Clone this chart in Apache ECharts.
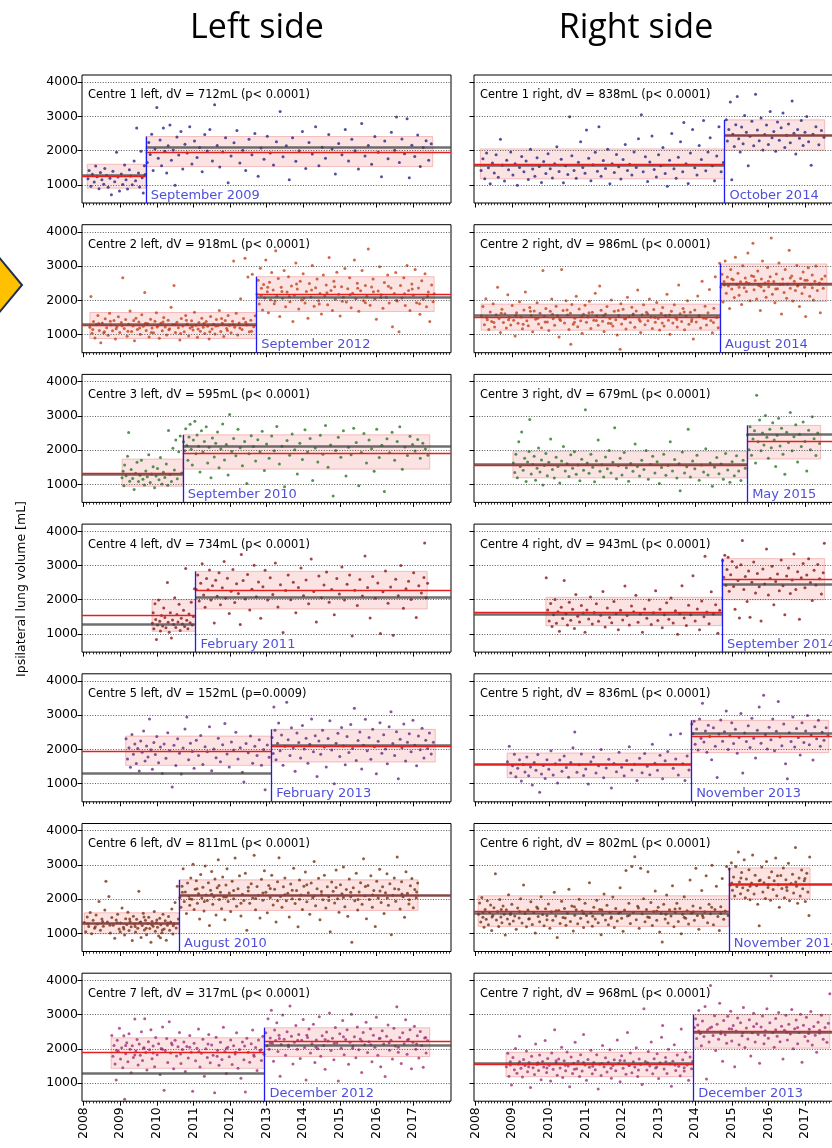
<!DOCTYPE html>
<html>
<head>
<meta charset="utf-8">
<script src="https://cdn.jsdelivr.net/npm/echarts@6/dist/echarts.min.js"></script>
<style>
html,body{margin:0;padding:0;background:#fff;}
#chart{width:832px;height:1148px;}
</style>
</head>
<body>
<div id="chart"></div>
<script>
// Ipsilateral lung volume per scan, before / after protocol change, 7 centres x 2 sides.

const yearTicks = [2008, 2009, 2010, 2011, 2012, 2013, 2014, 2015, 2016, 2017];
const volumeTicks = [1000, 2000, 3000, 4000];
const sideTitles = ['Left side', 'Right side'];

// panel order: C1 left, C1 right, C2 left, C2 right, ... C7 right
const centreNumbers = [1, 1, 2, 2, 3, 3, 4, 4, 5, 5, 6, 6, 7, 7];
const sideNames = ['left', 'right', 'left', 'right', 'left', 'right', 'left', 'right', 'left', 'right', 'left', 'right', 'left', 'right'];
const deltaV = [712, 838, 918, 986, 595, 679, 734, 943, 152, 836, 811, 802, 317, 968];
const pTexts = ['p< 0.0001', 'p< 0.0001', 'p< 0.0001', 'p< 0.0001', 'p< 0.0001', 'p< 0.0001', 'p< 0.0001', 'p< 0.0001', 'p=0.0009', 'p< 0.0001', 'p< 0.0001', 'p< 0.0001', 'p< 0.0001', 'p< 0.0001'];
const changeLabels = ['September 2009', 'October 2014', 'September 2012', 'August 2014', 'September 2010', 'May 2015', 'February 2011', 'September 2014', 'February 2013', 'November 2013', 'August 2010', 'November 2014', 'December 2012', 'December 2013'];
const changeYears = [2009.70, 2014.80, 2012.72, 2014.68, 2010.71, 2015.42, 2011.06, 2014.73, 2013.13, 2013.89, 2010.61, 2014.92, 2012.94, 2013.95];
const periodStart = [2008.10, 2008.13, 2008.17, 2008.15, 2009.05, 2009.02, 2009.87, 2009.92, 2009.15, 2008.86, 2008.02, 2008.07, 2008.75, 2008.83];
const periodEnd = [2017.54, 2017.54, 2017.58, 2017.60, 2017.46, 2017.43, 2017.39, 2017.54, 2017.61, 2017.65, 2017.14, 2017.14, 2017.46, 2017.68];
const meanBefore = [1255, 1604, 1265, 1510, 1324, 1570, 1555, 1643, 1955, 1555, 1290, 1641, 1902, 1557];
const refBefore = [1275, 1585, 1290, 1577, 1290, 1575, 1292, 1584, 1292, 1575, 1290, 1592, 1283, 1587];
const refAfter = [2088, 2460, 2085, 2480, 2098, 2475, 2085, 2460, 2117, 2460, 2100, 2447, 2098, 2489];
const bandBeforeLow = [903, 1175, 883, 1127, 941, 1187, 1078, 1243, 1535, 1175, 990, 1204, 1430, 1186];
const bandBeforeHigh = [1604, 2051, 1645, 1890, 1737, 1960, 2003, 2071, 2390, 1896, 1602, 2097, 2323, 1900];
const bandAfterLow = [1535, 2012, 1674, 1968, 1442, 1737, 1730, 2000, 1633, 1906, 1670, 2010, 1775, 2020];
const bandAfterHigh = [2412, 2899, 2691, 3063, 2445, 2720, 2828, 3200, 2587, 2850, 2563, 2913, 2616, 3000];
const centreColors = ['#202784', '#c0431a', '#297828', '#881818', '#672982', '#773210', '#a0307c'];

// scans: [decimal year, volume mL]
const ptsC1Left = [[2008.12,1180],[2008.15,1420],[2008.2,960],[2008.24,1310],[2008.29,1080],[2008.33,1550],[2008.37,1240],[2008.42,890],[2008.46,1360],[2008.5,1150],[2008.55,1020],[2008.58,1480],[2008.63,1270],[2008.67,930],[2008.72,1190],[2008.76,710],[2008.8,1400],[2008.85,1090],[2008.9,1950],[2008.94,1230],[2008.98,820],[2009.03,1320],[2009.07,1010],[2009.12,1580],[2009.16,1150],[2009.2,880],[2009.25,1440],[2009.29,1260],[2009.33,1000],[2009.38,1700],[2009.42,1120],[2009.45,2660],[2009.5,1350],[2009.53,940],[2009.57,1980],[2009.6,1210],[2009.63,760],[2009.66,1560],[2009.68,1300],
[2009.74,1650],[2009.78,2240],[2009.82,1890],[2009.86,2480],[2009.9,1420],[2009.95,2050],[2010.0,3260],[2010.04,1780],[2010.09,2310],[2010.13,1560],[2010.18,2660],[2010.22,1980],[2010.27,1350],[2010.31,2140],[2010.36,2750],[2010.4,1720],[2010.45,2020],[2010.5,990],[2010.55,2400],[2010.6,1870],[2010.66,2560],[2010.71,1460],[2010.77,2190],[2010.83,1930],[2010.9,2700],[2010.96,1610],[2011.03,2280],[2011.1,1800],[2011.17,2090],[2011.24,1380],[2011.31,2470],[2011.38,1990],[2011.45,2620],[2011.52,1700],[2011.58,3340],[2011.65,2150],[2011.72,1520],[2011.8,1960],[2011.88,2380],[2011.95,1060],[2012.03,1840],[2012.11,2230],[2012.19,2590],[2012.27,1640],[2012.35,2010],[2012.43,1420],[2012.52,2330],[2012.6,1880],[2012.68,2500],[2012.77,1250],[2012.85,2080],[2012.93,1750],[2013.02,2420],[2013.1,1930],[2013.19,1580],[2013.27,2260],[2013.37,3140],[2013.45,1820],[2013.54,2140],[2013.62,1150],[2013.71,2380],[2013.8,1690],[2013.89,2000],[2013.98,2560],[2014.07,1480],[2014.16,2240],[2014.25,1900],[2014.34,2700],[2014.43,1560],[2014.52,2100],[2014.61,1780],[2014.7,2470],[2014.79,2050],[2014.88,1320],[2014.97,2210],[2015.06,1880],[2015.15,2620],[2015.24,1700],[2015.33,2330],[2015.42,2000],[2015.51,1460],[2015.6,2790],[2015.69,1840],[2015.78,2150],[2015.87,1600],[2015.96,2410],[2016.05,1950],[2016.14,1240],[2016.23,2280],[2016.32,1760],[2016.41,2540],[2016.5,2010],[2016.55,2980],[2016.63,1650],[2016.7,2340],[2016.77,1910],[2016.84,2930],[2016.9,1210],[2016.97,2160],[2017.05,1830],[2017.13,2460],[2017.2,1540],[2017.28,2090],[2017.36,2290],[2017.43,1720],[2017.5,2200]];

const ptsC1Right = [[2008.15,1420],[2008.2,1760],[2008.25,1180],[2008.3,1930],[2008.35,1500],[2008.4,1030],[2008.46,1640],[2008.51,1350],[2008.56,1880],[2008.62,1220],[2008.68,2330],[2008.73,1580],[2008.79,1110],[2008.85,1720],[2008.9,1440],[2008.96,1960],[2009.02,1290],[2009.08,1620],[2009.14,990],[2009.2,1510],[2009.26,1830],[2009.32,1380],[2009.38,1700],[2009.44,1160],[2009.5,2040],[2009.56,1460],[2009.62,1250],[2009.68,1790],[2009.74,1540],[2009.8,1070],[2009.86,1680],[2009.92,1330],[2009.98,1910],[2010.04,1470],[2010.1,1200],[2010.16,1620],[2010.22,2110],[2010.28,1390],[2010.34,1750],[2010.4,1060],[2010.46,1560],[2010.52,1300],[2010.57,2990],[2010.63,1850],[2010.69,1420],[2010.75,1190],[2010.81,1660],[2010.87,2260],[2010.93,1510],[2010.99,1340],[2011.03,2600],[2011.09,1780],[2011.15,1120],[2011.21,1590],[2011.27,1950],[2011.33,1400],[2011.37,2700],[2011.43,1250],[2011.49,1710],[2011.55,1480],[2011.61,2040],[2011.67,1030],[2011.73,1620],[2011.79,1360],[2011.85,1890],[2011.91,1530],[2011.97,1170],[2012.03,1740],[2012.09,2180],[2012.15,1420],[2012.21,1600],[2012.27,1290],[2012.33,1960],[2012.39,1510],[2012.45,2350],[2012.53,3050],[2012.58,1380],[2012.64,1820],[2012.7,1100],[2012.76,1670],[2012.82,2430],[2012.88,1450],[2012.94,1230],[2013.0,1880],[2013.06,1560],[2013.12,2090],[2013.18,1330],[2013.24,960],[2013.3,1720],[2013.36,2500],[2013.42,1470],[2013.48,1190],[2013.54,1810],[2013.6,2260],[2013.66,1380],[2013.69,2820],[2013.75,1620],[2013.81,1040],[2013.87,1930],[2013.93,2620],[2013.99,1500],[2014.05,1290],[2014.11,2150],[2014.17,1740],[2014.23,2880],[2014.29,1410],[2014.35,1960],[2014.41,2380],[2014.47,1560],[2014.53,1120],[2014.59,1840],[2014.65,2700],[2014.71,1380],[2014.77,1650],
[2014.85,2900],[2014.88,2280],[2014.92,2620],[2014.96,3420],[2015.0,1150],[2015.03,2480],[2015.07,2120],[2015.11,2760],[2015.15,3580],[2015.19,2350],[2015.23,1960],[2015.27,2690],[2015.31,2200],[2015.35,3030],[2015.4,2540],[2015.45,1560],[2015.5,2420],[2015.55,2860],[2015.6,2140],[2015.65,3650],[2015.7,2600],[2015.75,2290],[2015.8,2950],[2015.85,2020],[2015.9,2470],[2015.95,2750],[2016.0,2180],[2016.05,3140],[2016.1,2380],[2016.15,2560],[2016.2,1980],[2016.25,2840],[2016.3,2300],[2016.35,2670],[2016.4,3100],[2016.45,2090],[2016.5,2450],[2016.55,2780],[2016.6,2230],[2016.65,3450],[2016.7,2510],[2016.75,1900],[2016.8,2620],[2016.85,2360],[2016.9,2880],[2016.95,2150],[2017.0,2540],[2017.05,3000],[2017.1,2260],[2017.17,1570],[2017.22,2480],[2017.3,2700],[2017.38,2170],[2017.45,2590],[2017.52,2390]];

const ptsC2Left = [[2008.17,1210],[2008.2,2110],[2008.23,1040],[2008.27,1380],[2008.31,900],[2008.35,1290],[2008.39,1560],[2008.43,1120],[2008.47,760],[2008.51,1340],[2008.55,1050],[2008.59,1460],[2008.63,1200],[2008.67,980],[2008.71,1620],[2008.75,1280],[2008.79,1110],[2008.83,1410],[2008.87,870],[2008.91,1230],[2008.95,1520],[2008.99,1060],[2009.03,1350],[2009.07,2660],[2009.11,1180],[2009.15,1440],[2009.19,950],[2009.23,1300],[2009.27,1690],[2009.31,1090],[2009.35,1250],[2009.39,820],[2009.43,1480],[2009.47,1150],[2009.51,1370],[2009.55,1010],[2009.59,1580],[2009.63,1240],[2009.67,2230],[2009.71,1120],[2009.75,1320],[2009.79,930],[2009.83,1450],[2009.87,1190],[2009.91,1050],[2009.95,1390],[2009.99,1640],[2010.03,1260],[2010.07,890],[2010.11,1330],[2010.15,1110],[2010.19,1500],[2010.23,1220],[2010.27,990],[2010.31,1420],[2010.35,1170],[2010.39,1800],[2010.43,1290],[2010.47,2430],[2010.51,1060],[2010.55,1360],[2010.59,1200],[2010.63,840],[2010.67,1470],[2010.71,1250],[2010.75,1080],[2010.79,1560],[2010.83,1310],[2010.87,960],[2010.91,1190],[2010.95,1400],[2010.99,1130],[2011.03,1650],[2011.07,1270],[2011.11,920],[2011.15,1350],[2011.19,1100],[2011.23,1480],[2011.27,1210],[2011.31,1030],[2011.35,1380],[2011.39,1240],[2011.43,870],[2011.47,1530],[2011.51,1160],[2011.55,1300],[2011.59,1020],[2011.63,1440],[2011.67,1260],[2011.71,1700],[2011.75,1090],[2011.79,1330],[2011.83,940],[2011.87,1410],[2011.91,1180],[2011.95,1560],[2011.99,1270],[2012.03,1050],[2012.07,1390],[2012.1,3150],[2012.13,1210],[2012.17,1620],[2012.21,990],[2012.25,1340],[2012.29,2050],[2012.33,1150],[2012.37,1470],[2012.41,3230],[2012.45,1280],[2012.49,2680],[2012.53,1080],[2012.57,1420],[2012.61,2760],[2012.65,1230],[2012.69,1550],
[2008.25,1150],[2008.41,1320],[2008.57,1080],[2008.73,1390],[2008.89,1170],[2009.05,1260],[2009.21,1100],[2009.37,1410],[2009.53,1190],[2009.69,1330],[2009.85,1060],[2010.01,1220],[2010.17,1370],[2010.33,1140],[2010.49,1290],[2010.65,1030],[2010.81,1420],[2010.97,1230],[2011.13,1160],[2011.29,1320],[2011.45,1080],[2011.61,1250],[2011.77,1470],[2011.93,1120],[2012.09,1290],[2012.27,1190],[2012.43,1360],[2012.59,1100],
[2012.74,2180],[2012.77,2590],[2012.8,1890],[2012.83,2940],[2012.86,2350],[2012.89,1720],[2012.92,2460],[2012.95,2070],[2012.98,3180],[2013.02,2250],[2013.05,1640],[2013.08,2530],[2013.11,2020],[2013.14,2810],[2013.18,2300],[2013.21,1900],[2013.25,3450],[2013.28,2120],[2013.32,2640],[2013.36,1530],[2013.4,2380],[2013.44,2060],[2013.48,2870],[2013.52,1810],[2013.56,2240],[2013.6,2690],[2013.64,1960],[2013.68,2420],[2013.72,1380],[2013.76,2150],[2013.8,3090],[2013.84,2330],[2013.88,1750],[2013.92,2560],[2013.96,2010],[2014.0,2780],[2014.05,1920],[2014.09,2260],[2014.13,1480],[2014.17,2490],[2014.21,2100],[2014.25,3020],[2014.3,1830],[2014.34,2370],[2014.38,2620],[2014.42,1990],[2014.46,2200],[2014.5,1600],[2014.55,2740],[2014.59,2130],[2014.63,2450],[2014.67,1870],[2014.71,3250],[2014.76,2290],[2014.8,1700],[2014.84,2560],[2014.88,2030],[2014.92,2820],[2014.97,2180],[2015.01,1540],[2015.05,2400],[2015.1,2090],[2015.14,2930],[2015.18,1950],[2015.22,2340],[2015.27,2660],[2015.31,1780],[2015.35,2210],[2015.4,3180],[2015.44,2050],[2015.48,2500],[2015.52,1680],[2015.57,2280],[2015.61,2870],[2015.65,1990],[2015.7,2430],[2015.74,2120],[2015.78,3500],[2015.83,1860],[2015.87,2390],[2015.91,2620],[2015.96,2040],[2016.0,1450],[2016.05,2270],[2016.09,2980],[2016.13,2160],[2016.18,1770],[2016.22,2520],[2016.27,2090],[2016.31,2740],[2016.35,1920],[2016.4,2360],[2016.44,1230],[2016.49,2200],[2016.53,2810],[2016.57,1980],[2016.62,1080],[2016.66,2430],[2016.7,2070],[2016.75,2660],[2016.79,1850],[2016.84,3020],[2016.88,2290],[2016.92,1700],[2016.97,2480],[2017.01,2150],[2017.06,2900],[2017.1,1930],[2017.15,2360],[2017.19,1590],[2017.24,2570],[2017.28,2030],[2017.33,2780],[2017.37,1810],[2017.42,2240],[2017.46,1380],[2017.51,2450],[2017.55,1960],[2017.58,2190],
[2012.85,2150],[2013.03,2380],[2013.23,1980],[2013.42,2260],[2013.62,2110],[2013.82,2480],[2014.02,2060],[2014.23,2300],[2014.44,1890],[2014.65,2220],[2014.86,2400],[2015.07,1970],[2015.28,2160],[2015.49,2350],[2015.7,1930],[2015.92,2250],[2016.12,2080],[2016.33,2410],[2016.55,2000],[2016.77,2190],[2016.98,2330],[2017.18,1900],[2017.4,2120]];

const ptsC2Right = [[2008.16,1540],[2008.2,1820],[2008.24,1290],[2008.28,2050],[2008.32,1430],[2008.36,1150],[2008.4,1660],[2008.44,1380],[2008.48,1900],[2008.52,1220],[2008.56,1580],[2008.6,2380],[2008.64,1470],[2008.68,1060],[2008.72,1740],[2008.76,1350],[2008.8,1610],[2008.84,1190],[2008.88,2160],[2008.92,1500],[2008.96,1280],[2009.0,1850],[2009.04,1420],[2009.08,960],[2009.12,1640],[2009.16,1330],[2009.2,1960],[2009.24,1510],[2009.28,1170],[2009.32,1720],[2009.36,2240],[2009.4,1400],[2009.44,1260],[2009.48,1790],[2009.52,1560],[2009.56,1080],[2009.6,1690],[2009.64,1450],[2009.68,1930],[2009.72,1310],[2009.76,1620],[2009.8,1200],[2009.84,2870],[2009.88,1530],[2009.92,1760],[2009.96,1370],[2010.0,1120],[2010.04,1680],[2010.08,2040],[2010.12,1460],[2010.16,1270],[2010.2,1830],[2010.24,1550],[2010.28,930],[2010.32,1410],[2010.35,2900],[2010.39,1700],[2010.43,1340],[2010.47,1990],[2010.51,1570],[2010.55,1150],[2010.59,1620],[2010.6,720],[2010.63,1880],[2010.67,1300],[2010.71,1480],[2010.75,2120],[2010.79,1230],[2010.83,1750],[2010.87,1400],[2010.91,1040],[2010.95,1590],[2010.99,1860],[2011.03,1360],[2011.07,1510],[2011.11,1970],[2011.15,1180],[2011.19,1650],[2011.23,1420],[2011.27,2210],[2011.31,1540],[2011.35,1270],[2011.39,2420],[2011.43,1710],[2011.47,1390],[2011.51,1090],[2011.55,1600],[2011.59,1820],[2011.63,1330],[2011.67,1470],[2011.71,2010],[2011.75,1250],[2011.79,1680],[2011.83,1430],[2011.87,990],[2011.91,1560],[2011.95,570],[2011.97,1900],[2011.99,1310],[2012.03,1740],[2012.07,1460],[2012.11,1160],[2012.15,2090],[2012.19,1520],[2012.23,1350],[2012.27,1800],[2012.31,1600],[2012.35,1210],[2012.39,1690],[2012.43,2300],[2012.47,1440],[2012.51,1060],[2012.55,1580],[2012.59,1870],[2012.63,1290],[2012.67,1650],[2012.71,1400],[2012.75,2040],[2012.79,1510],[2012.83,1180],[2012.87,1730],[2012.91,1360],[2012.95,1940],[2012.99,1470],[2013.03,1130],[2013.07,1620],[2013.11,1790],[2013.15,1250],[2013.19,1550],[2013.23,2180],[2013.27,1420],[2013.31,1010],[2013.35,1680],[2013.39,1340],[2013.43,1870],[2013.47,1490],[2013.51,1220],[2013.55,2450],[2013.59,1610],[2013.63,1380],[2013.67,1760],[2013.71,1140],[2013.75,1530],[2013.79,1990],[2013.83,1300],[2013.87,1650],[2013.91,1440],[2013.95,870],[2013.99,1720],[2014.03,1370],[2014.07,2130],[2014.11,1560],[2014.15,1190],[2014.19,2560],[2014.23,1480],[2014.27,1830],[2014.31,1280],[2014.35,1640],[2014.39,2320],[2014.43,1410],[2014.47,1050],[2014.51,1770],[2014.55,2690],[2014.59,1500],[2014.63,1200],
[2008.3,1500],[2008.5,1350],[2008.7,1620],[2008.9,1430],[2009.1,1560],[2009.3,1300],[2009.5,1680],[2009.7,1480],[2009.9,1370],[2010.1,1590],[2010.3,1450],[2010.5,1720],[2010.7,1360],[2010.9,1520],[2011.1,1640],[2011.3,1410],[2011.5,1550],[2011.7,1320],[2011.9,1700],[2012.1,1460],[2012.3,1580],[2012.5,1390],[2012.7,1610],[2012.9,1500],[2013.1,1340],[2013.3,1570],[2013.5,1440],[2013.7,1660],[2013.9,1380],[2014.1,1530],[2014.3,1470],[2014.5,1350],
[2014.67,3080],[2014.7,2390],[2014.73,2760],[2014.76,1950],[2014.79,2550],[2014.82,3150],[2014.85,2210],[2014.88,2680],[2014.91,2420],[2014.94,1760],[2014.97,2900],[2015.0,2330],[2015.04,2600],[2015.07,2080],[2015.1,3260],[2015.14,2470],[2015.17,2790],[2015.2,2150],[2015.24,2540],[2015.27,1880],[2015.3,3010],[2015.34,2370],[2015.37,2650],[2015.4,2260],[2015.44,3380],[2015.47,2490],[2015.5,1990],[2015.54,2720],[2015.58,3670],[2015.61,2310],[2015.64,2580],[2015.68,2040],[2015.71,2860],[2015.74,2430],[2015.78,1700],[2015.81,2620],[2015.84,3150],[2015.88,2280],[2015.91,2510],[2015.94,2090],[2015.98,2960],[2016.01,2400],[2016.05,2690],[2016.08,3820],[2016.11,2180],[2016.15,2550],[2016.18,1930],[2016.22,2770],[2016.25,2340],[2016.29,3090],[2016.32,2470],[2016.36,1600],[2016.39,2620],[2016.43,2230],[2016.46,2900],[2016.5,2060],[2016.53,2480],[2016.57,3460],[2016.6,2350],[2016.64,2710],[2016.67,1980],[2016.71,2560],[2016.74,2290],[2016.78,3020],[2016.81,2440],[2016.85,1820],[2016.88,2640],[2016.92,2200],[2016.95,2830],[2016.99,2380],[2017.02,1530],[2017.06,2590],[2017.09,2950],[2017.13,2120],[2017.16,2470],[2017.2,2740],[2017.23,2010],[2017.27,2560],[2017.3,3000],[2017.34,2290],[2017.38,2480],[2017.42,1640],[2017.46,2620],[2017.5,2350],[2017.55,2710],
[2014.8,2450],[2015.0,2620],[2015.2,2380],[2015.4,2530],[2015.6,2700],[2015.8,2400],[2016.0,2560],[2016.2,2330],[2016.4,2480],[2016.6,2650],[2016.8,2420],[2017.0,2590],[2017.2,2370],[2017.4,2510]];

const ptsC3Left = [[2009.05,1190],[2009.08,1380],[2009.1,960],[2009.12,1560],[2009.16,1250],[2009.2,1820],[2009.23,2510],[2009.26,1090],[2009.3,1430],[2009.34,1170],[2009.38,850],[2009.42,1320],[2009.46,1640],[2009.5,1080],[2009.54,1260],[2009.58,1700],[2009.62,1150],[2009.66,980],[2009.7,1390],[2009.74,1220],[2009.78,1860],[2009.82,1050],[2009.86,1300],[2009.9,1510],[2009.94,900],[2009.98,1240],[2010.02,1460],[2010.06,1130],[2010.1,1780],[2010.14,1010],[2010.18,1350],[2010.22,1200],[2010.26,1590],[2010.3,970],[2010.32,2570],[2010.36,1290],[2010.4,1080],[2010.44,2050],[2010.48,1420],[2010.52,2290],[2010.56,1160],[2010.6,1950],[2010.64,2410],[2010.68,1330],
[2010.73,2240],[2010.76,1980],[2010.79,2620],[2010.82,2130],[2010.85,1700],[2010.88,2380],[2010.91,2750],[2010.94,2020],[2010.97,1560],[2011.0,2290],[2011.04,2840],[2011.07,1890],[2011.1,2440],[2011.14,2110],[2011.18,1360],[2011.22,2560],[2011.26,1940],[2011.3,2250],[2011.35,2680],[2011.39,1620],[2011.43,2080],[2011.48,1190],[2011.52,2350],[2011.57,1800],[2011.61,2200],[2011.66,2530],[2011.7,1480],[2011.75,2030],[2011.8,2760],[2011.85,1710],[2011.9,2160],[2011.95,1270],[2011.99,3040],[2012.05,1960],[2012.1,2340],[2012.16,1830],[2012.22,2610],[2012.28,2070],[2012.34,1540],[2012.4,2250],[2012.46,1020],[2012.52,1890],[2012.58,2420],[2012.64,2100],[2012.7,1680],[2012.76,2300],[2012.82,1950],[2012.88,2550],[2012.94,1400],[2013.0,2180],[2013.07,1760],[2013.14,2410],[2013.21,1980],[2013.28,2690],[2013.35,1590],[2013.42,2110],[2013.49,930],[2013.56,2280],[2013.63,1850],[2013.7,2470],[2013.77,2010],[2013.84,1300],[2013.91,2200],[2013.98,1720],[2014.05,2590],[2014.12,1940],[2014.19,2340],[2014.26,1110],[2014.33,2060],[2014.4,1650],[2014.47,2430],[2014.54,1880],[2014.61,2720],[2014.68,1500],[2014.75,2150],[2014.82,660],[2014.89,1990],[2014.96,2370],[2015.03,1790],[2015.1,2560],[2015.17,1240],[2015.24,2080],[2015.31,1860],[2015.38,2640],[2015.45,2220],[2015.52,960],[2015.59,1930],[2015.66,2480],[2015.73,1620],[2015.8,2290],[2015.87,2040],[2015.94,1380],[2016.01,2610],[2016.08,1780],[2016.15,2140],[2016.22,790],[2016.29,2330],[2016.36,1920],[2016.43,2520],[2016.5,1700],[2016.57,2250],[2016.64,2680],[2016.71,1440],[2016.78,2090],[2016.85,1840],[2016.92,2400],[2016.99,2160],[2017.06,1970],[2017.13,2310],[2017.2,1760],[2017.27,2200],[2017.34,2030],[2017.41,1850]];

const ptsC3Right = [[2009.03,1620],[2009.07,1340],[2009.1,1880],[2009.14,1190],[2009.18,2240],[2009.22,1520],[2009.26,2530],[2009.3,1410],[2009.34,1760],[2009.38,1080],[2009.42,1650],[2009.46,1960],[2009.48,2890],[2009.52,1300],[2009.56,1580],[2009.6,1820],[2009.64,1120],[2009.68,1470],[2009.72,2060],[2009.76,1360],[2009.8,1710],[2009.84,980],[2009.88,1550],[2009.92,1900],[2009.96,1250],[2010.0,1640],[2010.05,2320],[2010.1,1430],[2010.15,1180],[2010.2,1790],[2010.25,1520],[2010.3,1040],[2010.35,1680],[2010.4,2100],[2010.45,1390],[2010.5,1600],[2010.55,1230],[2010.6,1860],[2010.65,1470],[2010.7,1950],[2010.75,1290],[2010.8,1560],[2010.85,1100],[2010.9,1730],[2010.95,1410],[2011.0,3180],[2011.05,1620],[2011.1,1320],[2011.15,1880],[2011.2,1500],[2011.25,1070],[2011.3,1690],[2011.35,2290],[2011.4,1380],[2011.45,1570],[2011.5,1210],[2011.55,1800],[2011.6,1450],[2011.65,1990],[2011.7,1330],[2011.75,1640],[2011.8,2650],[2011.85,1160],[2011.9,1540],[2011.95,1760],[2012.0,1270],[2012.06,1930],[2012.12,1480],[2012.18,1090],[2012.24,1610],[2012.3,1380],[2012.36,2180],[2012.42,1520],[2012.48,1240],[2012.54,1700],[2012.6,1430],[2012.66,1990],[2012.72,1150],[2012.78,1580],[2012.84,1820],[2012.9,1330],[2012.96,1660],[2013.02,1020],[2013.08,1490],[2013.14,1880],[2013.2,1260],[2013.26,1550],[2013.32,2240],[2013.38,1390],[2013.44,1720],[2013.5,1180],[2013.56,1600],[2013.59,810],[2013.65,1940],[2013.71,1330],[2013.77,1510],[2013.81,2610],[2013.87,1210],[2013.93,1680],[2013.99,1450],[2014.05,1850],[2014.11,1120],[2014.17,1560],[2014.23,1360],[2014.29,2040],[2014.35,1270],[2014.41,1620],[2014.47,940],[2014.53,1500],[2014.59,1780],[2014.65,1310],[2014.71,1590],[2014.77,1150],[2014.83,1900],[2014.89,1420],[2014.95,1060],[2015.01,1660],[2015.07,1250],[2015.13,1830],[2015.19,1390],[2015.25,1110],[2015.31,1700],[2015.37,1470],
[2015.43,2450],[2015.47,2010],[2015.5,2680],[2015.54,1850],[2015.58,2320],[2015.62,2560],[2015.65,1620],[2015.68,3600],[2015.72,2240],[2015.76,2880],[2015.8,1980],[2015.84,2500],[2015.88,2150],[2015.92,3010],[2015.96,2370],[2016.0,1760],[2016.04,2610],[2016.08,2070],[2016.12,2800],[2016.16,2290],[2016.2,1520],[2016.24,2430],[2016.28,2930],[2016.32,2120],[2016.36,2640],[2016.4,1880],[2016.45,1290],[2016.5,2520],[2016.55,2220],[2016.6,3100],[2016.65,1980],[2016.7,2390],[2016.75,2740],[2016.8,1650],[2016.85,2460],[2016.9,2100],[2016.95,2820],[2017.0,2250],[2017.05,1390],[2017.1,2580],[2017.15,2010],[2017.2,2970],[2017.25,2330],[2017.3,1840],[2017.35,2500],[2017.4,2190]];

const ptsC4Left = [[2009.88,1310],[2009.9,1620],[2009.92,1150],[2009.95,1880],[2009.97,1420],[2009.99,835],[2010.02,1260],[2010.05,1990],[2010.08,1370],[2010.1,1090],[2010.13,1540],[2010.16,1230],[2010.19,1760],[2010.22,1480],[2010.25,1180],[2010.29,2500],[2010.31,1340],[2010.34,1050],[2010.37,1620],[2010.4,880],[2010.43,1410],[2010.46,1280],[2010.49,2060],[2010.52,1190],[2010.55,1570],[2010.58,1350],[2010.61,1870],[2010.64,1100],[2010.67,1460],[2010.7,1290],[2010.73,1690],[2010.76,1220],[2010.79,2910],[2010.82,1400],[2010.85,1150],[2010.88,1580],[2010.91,1330],[2010.94,1930],[2010.97,1260],[2011.0,1510],[2011.03,2320],
[2011.08,2300],[2011.12,2720],[2011.16,1960],[2011.2,2480],[2011.24,3050],[2011.28,2140],[2011.32,1780],[2011.36,2620],[2011.4,2290],[2011.44,2870],[2011.48,1990],[2011.52,2410],[2011.57,1320],[2011.61,2570],[2011.65,2100],[2011.7,2790],[2011.74,1850],[2011.79,2350],[2011.84,3120],[2011.88,2040],[2011.93,2630],[2011.98,1600],[2012.03,2250],[2012.08,2880],[2012.13,1920],[2012.18,2470],[2012.23,2180],[2012.28,1280],[2012.31,3320],[2012.36,2560],[2012.42,2020],[2012.48,2740],[2012.54,1700],[2012.6,2310],[2012.66,3010],[2012.72,2090],[2012.78,2520],[2012.84,1460],[2012.9,2380],[2012.96,2860],[2013.03,1990],[2013.1,2640],[2013.17,2150],[2013.24,3070],[2013.31,1790],[2013.38,2440],[2013.45,1040],[2013.52,2270],[2013.59,2720],[2013.66,2000],[2013.73,2510],[2013.8,1620],[2013.87,2360],[2013.94,2930],[2014.01,2120],[2014.08,2580],[2014.15,1880],[2014.22,3190],[2014.29,2240],[2014.36,1350],[2014.43,2690],[2014.5,2060],[2014.57,2430],[2014.64,2810],[2014.71,1930],[2014.78,2300],[2014.85,1560],[2014.92,2620],[2014.99,2170],[2015.06,2960],[2015.13,1990],[2015.2,2450],[2015.27,2720],[2015.34,940],[2015.41,2280],[2015.48,1830],[2015.55,2590],[2015.62,2110],[2015.69,3280],[2015.76,2360],[2015.83,1470],[2015.9,2680],[2015.97,2040],[2016.04,2490],[2016.11,1010],[2016.18,2230],[2016.25,2840],[2016.32,1900],[2016.39,2370],[2016.46,960],[2016.53,2600],[2016.6,2120],[2016.67,3000],[2016.74,1750],[2016.81,2320],[2016.88,2540],[2016.95,2010],[2017.02,2790],[2017.09,1480],[2017.16,2410],[2017.23,2200],[2017.3,2650],[2017.32,3660],[2017.36,2060],[2017.4,2480]];

const ptsC4Right = [[2009.93,2640],[2009.97,1700],[2010.01,1380],[2010.05,1890],[2010.09,1220],[2010.13,1560],[2010.17,2010],[2010.21,1310],[2010.25,1650],[2010.29,1080],[2010.34,1780],[2010.38,1450],[2010.42,2560],[2010.47,1590],[2010.51,1260],[2010.56,1930],[2010.6,1400],[2010.65,1720],[2010.7,1160],[2010.74,2150],[2010.79,1520],[2010.84,1350],[2010.89,1830],[2010.94,1610],[2010.99,1050],[2011.04,1700],[2011.09,1440],[2011.14,2080],[2011.19,1290],[2011.24,1630],[2011.3,1880],[2011.36,1370],[2011.42,1550],[2011.48,2240],[2011.54,1200],[2011.6,1760],[2011.66,1480],[2011.72,1330],[2011.78,1950],[2011.84,1590],[2011.9,1120],[2011.96,1690],[2012.02,1410],[2012.08,2400],[2012.14,1540],[2012.2,1260],[2012.26,1820],[2012.32,1650],[2012.38,2130],[2012.44,1340],[2012.5,1580],[2012.56,1050],[2012.62,1730],[2012.68,1460],[2012.74,1990],[2012.8,1280],[2012.86,1620],[2012.92,2260],[2012.98,1390],[2013.04,1720],[2013.1,1180],[2013.16,1560],[2013.22,1910],[2013.28,1430],[2013.34,2050],[2013.4,1320],[2013.46,1680],[2013.52,990],[2013.58,1590],[2013.64,2410],[2013.7,1470],[2013.76,1250],[2013.82,1840],[2013.88,1560],[2013.94,2700],[2014.0,1380],[2014.06,1730],[2014.12,1120],[2014.18,1960],[2014.24,1500],[2014.27,3270],[2014.32,1640],[2014.38,1300],[2014.44,2230],[2014.5,1580],[2014.56,1850],[2014.62,1020],[2014.67,1690],
[2014.75,3150],[2014.78,2660],[2014.81,3300],[2014.84,2420],[2014.87,2880],[2014.9,3240],[2014.93,2250],[2014.97,2730],[2015.01,3120],[2015.05,2390],[2015.09,1720],[2015.13,2950],[2015.17,2560],[2015.21,1470],[2015.25,3020],[2015.29,3730],[2015.33,2300],[2015.37,2680],[2015.42,1950],[2015.46,2840],[2015.5,1490],[2015.55,2510],[2015.6,3100],[2015.65,2200],[2015.7,2770],[2015.75,2380],[2015.8,1380],[2015.85,2900],[2015.9,2460],[2015.95,3480],[2016.0,2140],[2016.05,2620],[2016.1,2980],[2016.15,1850],[2016.2,2530],[2016.25,2750],[2016.3,2260],[2016.35,3160],[2016.4,2410],[2016.45,1560],[2016.5,2690],[2016.55,2930],[2016.6,2180],[2016.65,2580],[2016.7,3340],[2016.75,2300],[2016.8,2820],[2016.85,1430],[2016.9,2640],[2016.95,3060],[2017.0,2350],[2017.05,2720],[2017.1,3200],[2017.15,2500],[2017.2,1980],[2017.25,2860],[2017.3,2430],[2017.35,3030],[2017.4,2610],[2017.45,2170],[2017.5,2790],[2017.53,3650]];

const ptsC5Left = [[2009.16,2310],[2009.2,1720],[2009.24,2050],[2009.28,1480],[2009.32,2440],[2009.36,1860],[2009.4,2160],[2009.44,1590],[2009.48,2030],[2009.52,1370],[2009.56,2250],[2009.6,1920],[2009.64,2540],[2009.68,1660],[2009.72,2100],[2009.76,1780],[2009.8,2890],[2009.84,1990],[2009.88,1420],[2009.92,2200],[2009.96,1850],[2010.0,2380],[2010.05,1610],[2010.1,2070],[2010.15,1300],[2010.2,2160],[2010.25,1740],[2010.3,2490],[2010.35,1960],[2010.42,900],[2010.47,2120],[2010.52,1530],[2010.57,2310],[2010.62,1890],[2010.67,1280],[2010.72,2040],[2010.77,2600],[2010.82,2950],[2010.87,1700],[2010.92,2180],[2010.97,1940],[2011.02,1450],[2011.08,2270],[2011.14,1820],[2011.2,2410],[2011.26,1560],[2011.32,2080],[2011.38,1930],[2011.44,2660],[2011.5,1380],[2011.56,2010],[2011.62,1760],[2011.68,2330],[2011.74,1640],[2011.8,2140],[2011.86,2760],[2011.92,1870],[2011.98,1490],[2012.04,2220],[2012.1,1980],[2012.16,2500],[2012.22,1720],[2012.28,2050],[2012.34,1330],[2012.38,1050],[2012.44,2170],[2012.5,1900],[2012.56,2390],[2012.62,1600],[2012.68,2090],[2012.74,1820],[2012.8,2280],[2012.86,1540],[2012.92,2000],[2012.96,820],[2013.02,2130],[2013.07,1770],
[2013.15,2350],[2013.18,1880],[2013.2,3240],[2013.23,2560],[2013.26,1700],[2013.3,2180],[2013.33,2770],[2013.37,1960],[2013.41,2420],[2013.45,1540],[2013.5,2090],[2013.55,3380],[2013.59,2280],[2013.64,1820],[2013.68,2630],[2013.73,2040],[2013.78,1360],[2013.83,2480],[2013.88,2200],[2013.93,1750],[2013.98,2700],[2014.03,2010],[2014.08,2330],[2014.13,1600],[2014.18,2150],[2014.23,2890],[2014.28,1930],[2014.33,2400],[2014.38,1210],[2014.43,2250],[2014.48,1860],[2014.53,2560],[2014.58,2070],[2014.63,1490],[2014.68,2320],[2014.73,2840],[2014.78,1980],[2014.85,1000],[2014.9,2180],[2014.95,2470],[2015.0,1790],[2015.05,2640],[2015.1,2100],[2015.15,1550],[2015.2,2380],[2015.25,1910],[2015.3,2730],[2015.35,2030],[2015.4,3200],[2015.45,1680],[2015.5,2260],[2015.55,2510],[2015.6,1430],[2015.65,2120],[2015.7,2880],[2015.75,1960],[2015.8,2350],[2015.85,1710],[2015.9,2590],[2015.95,2080],[2016.0,1290],[2016.05,2240],[2016.1,2780],[2016.15,1890],[2016.2,2430],[2016.25,2010],[2016.3,1580],[2016.35,2660],[2016.4,3100],[2016.45,2170],[2016.5,1820],[2016.55,2520],[2016.6,1140],[2016.65,2300],[2016.7,2050],[2016.75,2740],[2016.8,1660],[2016.85,2210],[2016.9,2460],[2016.95,1930],[2017.0,2850],[2017.05,2120],[2017.1,1520],[2017.15,2390],[2017.2,1990],[2017.25,2620],[2017.3,1750],[2017.35,2270],[2017.4,2030],[2017.45,2480],[2017.5,1870],[2017.56,2210]];

const ptsC5Right = [[2008.87,1640],[2008.92,2090],[2008.96,1310],[2009.01,1520],[2009.06,1860],[2009.1,1200],[2009.15,1450],[2009.2,1700],[2009.25,1080],[2009.3,1560],[2009.35,1340],[2009.4,1780],[2009.45,1230],[2009.5,1490],[2009.55,960],[2009.6,1620],[2009.65,1390],[2009.7,1850],[2009.75,750],[2009.8,1280],[2009.85,1530],[2009.9,1150],[2009.95,1700],[2010.0,1420],[2010.06,1960],[2010.12,1250],[2010.18,1580],[2010.24,1020],[2010.3,1690],[2010.36,1360],[2010.42,1810],[2010.48,1470],[2010.54,1190],[2010.6,1620],[2010.66,2050],[2010.71,2510],[2010.77,1330],[2010.83,1550],[2010.89,1870],[2010.95,1240],[2011.01,1430],[2011.08,990],[2011.15,1640],[2011.22,1780],[2011.29,1310],[2011.36,1520],[2011.43,2000],[2011.5,1170],[2011.57,1460],[2011.64,1710],[2011.71,870],[2011.78,1590],[2011.85,1350],[2011.92,1920],[2011.99,1480],[2012.06,1230],[2012.13,1680],[2012.2,2080],[2012.27,1400],[2012.34,1570],[2012.41,1090],[2012.48,1740],[2012.55,1320],[2012.62,1880],[2012.69,1510],[2012.76,1260],[2012.83,2150],[2012.9,1600],[2012.97,1390],[2013.04,1830],[2013.11,1140],[2013.18,1670],[2013.25,1940],[2013.33,2430],[2013.4,1450],[2013.47,1720],[2013.54,1250],[2013.6,2460],[2013.66,1580],[2013.72,1090],[2013.78,1810],[2013.83,1400],
[2013.91,2740],[2013.94,2460],[2013.97,2820],[2014.0,2150],[2014.04,2600],[2014.08,1980],[2014.12,2890],[2014.16,2330],[2014.2,3350],[2014.24,2220],[2014.28,2540],[2014.32,1920],[2014.36,2710],[2014.4,2380],[2014.45,1700],[2014.5,2630],[2014.55,2090],[2014.6,1180],[2014.65,2450],[2014.7,2860],[2014.75,2240],[2014.8,2520],[2014.85,3120],[2014.9,2000],[2014.95,2400],[2015.0,2780],[2015.05,2170],[2015.1,2590],[2015.15,1890],[2015.2,2350],[2015.25,3050],[2015.3,1310],[2015.35,2480],[2015.4,2230],[2015.45,2690],[2015.5,2060],[2015.55,2910],[2015.6,2330],[2015.65,1750],[2015.7,2560],[2015.75,3240],[2015.8,2180],[2015.87,3580],[2015.92,2440],[2015.97,2010],[2016.02,2650],[2016.07,2280],[2016.12,2890],[2016.17,1960],[2016.22,2530],[2016.27,3400],[2016.32,2360],[2016.37,2110],[2016.42,2740],[2016.47,1580],[2016.52,1140],[2016.57,2490],[2016.62,2230],[2016.67,2950],[2016.72,2070],[2016.77,2610],[2016.82,2350],[2016.87,1840],[2016.92,2780],[2016.97,2200],[2017.02,2540],[2017.07,2990],[2017.12,2140],[2017.17,2420],[2017.22,1690],[2017.27,2660],[2017.32,2310],[2017.37,2850],[2017.42,2090],[2017.47,2500],[2017.52,2270],[2017.58,2630],[2017.63,2400]];

const ptsC6Left = [[2008.02,1320],[2008.06,1050],[2008.1,1480],[2008.14,1200],[2008.18,1610],[2008.22,990],[2008.26,1380],[2008.3,1150],[2008.34,1540],[2008.38,1270],[2008.42,1930],[2008.46,1090],[2008.5,1420],[2008.54,1210],[2008.58,1680],[2008.61,2520],[2008.65,1330],[2008.69,2080],[2008.73,1010],[2008.77,1460],[2008.81,1240],[2008.85,860],[2008.89,1390],[2008.93,1560],[2008.97,1130],[2009.01,1300],[2009.05,1740],[2009.09,1180],[2009.12,950],[2009.15,1430],[2009.18,1260],[2009.21,1620],[2009.24,1080],[2009.27,1350],[2009.3,1190],[2009.33,790],[2009.36,1500],[2009.39,1270],[2009.42,1040],[2009.45,1410],[2009.48,1150],[2009.51,2230],[2009.54,1320],[2009.57,880],[2009.6,1230],[2009.63,1590],[2009.66,1100],[2009.69,1380],[2009.72,960],[2009.75,1290],[2009.78,1470],[2009.81,1140],[2009.84,740],[2009.87,1350],[2009.9,1210],[2009.93,1640],[2009.96,1060],[2009.99,1310],[2010.02,1180],[2010.05,920],[2010.08,1440],[2010.11,1250],[2010.14,1020],[2010.17,1560],[2010.2,1130],[2010.23,1370],[2010.26,800],[2010.29,1240],[2010.32,1490],[2010.35,1090],[2010.38,1330],[2010.41,1710],[2010.44,980],[2010.47,1280],[2010.5,1900],[2010.53,1160],[2010.56,2380],[2010.59,1420],
[2008.12,1280],[2008.32,1190],[2008.52,1350],[2008.72,1240],[2008.92,1310],[2009.0,1050],[2009.1,1130],[2009.26,1420],[2009.41,1200],[2009.56,1330],[2009.65,1480],[2009.71,1150],[2009.86,1260],[2010.0,1390],[2010.1,870],[2010.15,1100],[2010.3,1300],[2010.45,1220],
[2010.63,2050],[2010.66,1760],[2010.69,2380],[2010.72,2890],[2010.75,1930],[2010.78,2210],[2010.81,1580],[2010.84,2470],[2010.87,2090],[2010.9,1820],[2010.93,2620],[2010.96,2000],[2010.99,3020],[2011.02,1700],[2011.05,2290],[2011.08,2540],[2011.11,1880],[2011.14,2160],[2011.17,1420],[2011.2,2720],[2011.23,2030],[2011.26,2350],[2011.29,1650],[2011.32,2970],[2011.35,2120],[2011.38,1960],[2011.41,2480],[2011.44,1230],[2011.47,2260],[2011.5,2810],[2011.53,1850],[2011.56,2070],[2011.59,2590],[2011.62,1540],[2011.65,2330],[2011.68,3150],[2011.71,1990],[2011.74,2200],[2011.77,1720],[2011.8,2650],[2011.83,2060],[2011.86,1400],[2011.89,2410],[2011.92,2890],[2011.95,1930],[2011.98,2180],[2012.02,1640],[2012.06,2520],[2012.1,2010],[2012.14,3200],[2012.18,1790],[2012.22,2300],[2012.26,2680],[2012.3,1510],[2012.34,2140],[2012.38,1960],[2012.42,2760],[2012.46,1090],[2012.5,2240],[2012.54,1880],[2012.58,2450],[2012.62,2030],[2012.66,3280],[2012.7,1690],[2012.74,2370],[2012.78,2110],[2012.82,1450],[2012.86,2580],[2012.9,1970],[2012.94,2830],[2012.98,2200],[2013.02,1600],[2013.06,2400],[2013.1,2050],[2013.14,2700],[2013.18,1830],[2013.22,2290],[2013.26,1330],[2013.3,2510],[2013.34,3210],[2013.38,2080],[2013.42,1760],[2013.46,2360],[2013.5,2620],[2013.54,1950],[2013.58,2170],[2013.62,1480],[2013.66,2440],[2013.7,2010],[2013.74,2900],[2013.78,1870],[2013.82,2250],[2013.86,1190],[2013.9,2560],[2013.94,2120],[2013.98,1700],[2014.02,2380],[2014.06,2790],[2014.1,1920],[2014.14,2190],[2014.18,1560],[2014.22,2470],[2014.26,2040],[2014.3,3100],[2014.34,1810],[2014.38,2300],[2014.42,2610],[2014.46,1400],[2014.5,2130],[2014.54,1980],[2014.58,2700],[2014.62,1740],[2014.66,2360],[2014.7,2070],[2014.74,1050],[2014.78,2500],[2014.82,2230],[2014.86,1890],[2014.9,2850],[2014.94,2010],[2014.98,1620],[2015.02,2420],[2015.06,2160],[2015.1,2940],[2015.14,1780],[2015.18,2280],[2015.22,1500],[2015.26,2590],[2015.3,2070],[2015.33,740],[2015.37,2330],[2015.41,1950],[2015.45,2760],[2015.49,1680],[2015.53,2210],[2015.57,2480],[2015.61,1850],[2015.65,3180],[2015.69,2100],[2015.73,1430],[2015.77,2400],[2015.81,1990],[2015.85,2680],[2015.89,1760],[2015.93,2250],[2015.97,1200],[2016.01,2520],[2016.05,2030],[2016.09,2870],[2016.13,1900],[2016.17,2360],[2016.21,1580],[2016.25,2190],[2016.29,2740],[2016.33,1820],[2016.37,2450],[2016.41,960],[2016.45,2110],[2016.49,2620],[2016.53,1940],[2016.57,3230],[2016.61,2290],[2016.65,1710],[2016.69,2510],[2016.73,2070],[2016.77,1470],[2016.81,2800],[2016.85,2170],[2016.89,1860],[2016.93,2390],[2016.97,2600],[2017.01,1750],[2017.05,2280],[2017.09,2040],[2017.13,2470],
[2010.7,2200],[2010.9,2010],[2011.1,2300],[2011.3,1930],[2011.5,2140],[2011.7,2400],[2011.9,2060],[2012.1,2250],[2012.3,1880],[2012.5,2350],[2012.7,2020],[2012.9,2180],[2013.1,2310],[2013.3,1950],[2013.5,2130],[2013.7,2260],[2013.9,2000],[2014.1,2420],[2014.3,2090],[2014.5,2220],[2014.7,1960],[2014.9,2340],[2015.1,2050],[2015.3,2200],[2015.5,1990],[2015.7,2370],[2015.9,2120],[2016.1,2240],[2016.3,2030],[2016.5,2300],[2016.7,2150],[2016.9,1980],[2017.1,2210]];

const ptsC6Right = [[2008.08,1560],[2008.11,1890],[2008.14,1330],[2008.17,2050],[2008.2,1470],[2008.23,1180],[2008.26,1700],[2008.29,1410],[2008.32,1950],[2008.35,1250],[2008.38,1620],[2008.41,1830],[2008.44,1080],[2008.47,1520],[2008.5,1750],[2008.54,2740],[2008.57,1390],[2008.6,1640],[2008.63,1200],[2008.66,1990],[2008.69,1480],[2008.72,1310],[2008.75,1800],[2008.78,1560],[2008.81,950],[2008.84,1690],[2008.87,1420],[2008.9,2130],[2008.93,1270],[2008.96,1590],[2008.99,1850],[2009.03,1360],[2009.07,1510],[2009.11,1120],[2009.15,1740],[2009.19,1450],[2009.23,2010],[2009.27,1300],[2009.31,2410],[2009.35,1580],[2009.39,1190],[2009.43,1680],[2009.47,1430],[2009.51,1920],[2009.55,1260],[2009.59,1610],[2009.63,1010],[2009.67,1770],[2009.71,1490],[2009.75,1340],[2009.79,2070],[2009.83,1550],[2009.87,1220],[2009.91,1720],[2009.95,1400],[2009.99,1860],[2010.03,1150],[2010.07,1630],[2010.11,1380],[2010.15,2200],[2010.19,1510],[2010.23,880],[2010.27,1670],[2010.31,1290],[2010.35,1940],[2010.39,1460],[2010.43,1730],[2010.47,1240],[2010.51,1590],[2010.55,2290],[2010.59,1350],[2010.63,1800],[2010.67,1070],[2010.71,1530],[2010.75,1690],[2010.79,1280],[2010.83,2000],[2010.87,1440],[2010.91,1650],[2010.95,1170],[2010.99,1880],[2011.03,1520],[2011.07,1330],[2011.11,2480],[2011.15,1600],[2011.19,1210],[2011.23,1760],[2011.27,1420],[2011.31,1970],[2011.35,1310],[2011.39,1700],[2011.43,960],[2011.47,1540],[2011.51,2150],[2011.55,1390],[2011.59,1820],[2011.63,1250],[2011.67,1620],[2011.71,1480],[2011.75,2060],[2011.79,1170],[2011.83,1730],[2011.87,1360],[2011.91,1590],[2011.95,2330],[2011.99,1440],[2012.03,1060],[2012.07,1680],[2012.11,2840],[2012.15,1510],[2012.19,1880],[2012.23,1290],[2012.27,2950],[2012.31,1620],[2012.35,3240],[2012.39,1400],[2012.43,1790],[2012.47,1150],[2012.51,2900],[2012.55,1570],[2012.59,2010],[2012.63,1340],[2012.67,1700],[2012.71,2800],[2012.75,1460],[2012.79,1900],[2012.83,1230],[2012.87,1640],[2012.91,2240],[2012.95,1380],[2012.99,1760],[2013.03,1040],[2013.07,1580],[2013.1,750],[2013.14,1850],[2013.18,1420],[2013.22,2120],[2013.26,1300],[2013.3,1690],[2013.34,1510],[2013.38,2390],[2013.42,1190],[2013.46,1620],[2013.5,1880],[2013.54,1350],[2013.58,1730],[2013.62,990],[2013.66,1560],[2013.7,2070],[2013.74,1440],[2013.78,1660],[2013.82,1270],[2013.86,2560],[2013.9,1590],[2013.94,1800],[2013.98,1380],[2014.02,2900],[2014.06,1520],[2014.1,1120],[2014.14,1740],[2014.18,2250],[2014.22,1460],[2014.26,1630],[2014.3,2680],[2014.34,1310],[2014.38,1850],[2014.42,1570],[2014.46,2990],[2014.5,1250],[2014.54,1700],[2014.58,2380],[2014.62,1490],[2014.66,1080],[2014.7,1780],[2014.74,2600],[2014.78,1410],[2014.82,1650],[2014.86,2950],[2014.9,1520],
[2008.2,1620],[2008.45,1480],[2008.7,1700],[2008.95,1550],[2009.2,1640],[2009.45,1420],[2009.7,1730],[2009.95,1520],[2010.2,1660],[2010.45,1450],[2010.7,1780],[2010.95,1580],[2011.2,1500],[2011.45,1690],[2011.7,1440],[2011.95,1620],[2012.2,1530],[2012.45,1740],[2012.7,1480],[2012.95,1650],[2013.2,1560],[2013.45,1710],[2013.7,1470],[2013.95,1630],[2014.2,1520],[2014.45,1760],[2014.7,1580],
[2014.93,2880],[2014.96,2410],[2014.99,3060],[2015.02,2260],[2015.05,2650],[2015.08,2090],[2015.11,2950],[2015.14,2370],[2015.18,3380],[2015.21,2500],[2015.24,2160],[2015.27,2780],[2015.3,2330],[2015.34,3150],[2015.37,2040],[2015.4,2590],[2015.44,2260],[2015.47,2860],[2015.5,1980],[2015.54,2470],[2015.57,3290],[2015.61,2150],[2015.64,2700],[2015.68,2390],[2015.71,1850],[2015.75,1220],[2015.78,2560],[2015.82,2940],[2015.85,2210],[2015.88,2480],[2015.92,2020],[2015.95,3100],[2015.99,2340],[2016.02,2630],[2016.06,1970],[2016.09,2800],[2016.13,2280],[2016.16,2540],[2016.2,3200],[2016.23,2100],[2016.27,2420],[2016.3,1760],[2016.34,2690],[2016.37,2310],[2016.41,2910],[2016.44,2040],[2016.48,2570],[2016.51,2250],[2016.55,3050],[2016.58,1950],[2016.62,2460],[2016.66,2730],[2016.69,2180],[2016.74,3510],[2016.77,2380],[2016.8,1880],[2016.84,2620],[2016.87,2090],[2016.91,2850],[2016.94,2300],[2016.98,2540],[2017.01,1930],[2017.05,2760],[2017.08,2210],[2017.11,1520],[2017.13,3230],
[2015.0,2470],[2015.25,2620],[2015.5,2380],[2015.75,2540],[2016.0,2420],[2016.25,2680],[2016.5,2350],[2016.75,2500],[2017.0,2600]];

const ptsC7Left = [[2008.77,2390],[2008.8,1780],[2008.83,2100],[2008.86,1560],[2008.89,1090],[2008.92,2250],[2008.95,1920],[2008.98,2600],[2009.01,1700],[2009.04,2030],[2009.07,1450],[2009.1,2380],[2009.12,530],[2009.15,1860],[2009.18,2180],[2009.21,1620],[2009.24,2440],[2009.27,1990],[2009.3,1300],[2009.33,2090],[2009.36,1750],[2009.4,2870],[2009.43,1940],[2009.46,2270],[2009.49,1530],[2009.52,2140],[2009.55,1810],[2009.58,2500],[2009.61,1660],[2009.64,2020],[2009.67,2880],[2009.7,1890],[2009.73,1380],[2009.77,2210],[2009.8,1970],[2009.84,2560],[2009.87,1710],[2009.9,2080],[2009.94,1480],[2009.97,2330],[2010.01,1830],[2010.05,2150],[2010.09,1250],[2010.12,2010],[2010.16,2640],[2010.2,790],[2010.23,1950],[2010.27,2300],[2010.3,1600],[2010.34,2790],[2010.38,1880],[2010.42,2120],[2010.46,1420],[2010.5,2250],[2010.54,1790],[2010.58,2060],[2010.62,2480],[2010.66,1570],[2010.7,1980],[2010.74,2200],[2010.78,1340],[2010.82,2070],[2010.86,1730],[2010.9,2390],[2010.94,1900],[2010.98,760],[2011.02,2160],[2011.06,1650],[2011.1,2020],[2011.14,2580],[2011.18,1470],[2011.22,1870],[2011.26,2280],[2011.3,1200],[2011.34,2000],[2011.38,1750],[2011.42,2420],[2011.46,1590],[2011.5,2110],[2011.54,1810],[2011.58,720],[2011.62,2340],[2011.66,1960],[2011.7,1520],[2011.74,2190],[2011.78,1690],[2011.82,2630],[2011.86,1920],[2011.9,1280],[2011.94,2050],[2011.98,1770],[2012.02,2260],[2012.06,1540],[2012.1,2090],[2012.14,1850],[2012.18,2470],[2012.22,1430],[2012.26,1980],[2012.3,1140],[2012.34,2200],[2012.38,1680],[2012.42,740],[2012.46,2310],[2012.5,1900],[2012.54,1610],[2012.58,2150],[2012.62,2550],[2012.66,1780],[2012.7,2040],[2012.74,1370],[2012.78,2260],[2012.82,1950],[2012.86,1660],[2012.9,2370],[2012.93,1840],
[2008.9,1960],[2009.15,2100],[2009.4,1820],[2009.65,2030],[2009.9,1880],[2010.15,1990],[2010.4,2170],[2010.65,1850],[2010.9,2050],[2011.15,1920],[2011.4,2140],[2011.65,1780],[2011.9,2010],[2012.15,1900],[2012.4,2080],[2012.65,1830],[2012.85,1970],
[2012.98,2470],[2013.01,2090],[2013.04,2880],[2013.07,1990],[2013.1,2320],[2013.13,3130],[2013.16,2160],[2013.19,1640],[2013.22,2550],[2013.25,2240],[2013.28,2760],[2013.31,1920],[2013.34,2400],[2013.37,1200],[2013.4,2130],[2013.44,2990],[2013.48,2280],[2013.52,1810],[2013.56,2500],[2013.6,2060],[2013.64,3250],[2013.68,2370],[2013.72,1560],[2013.76,2190],[2013.8,2680],[2013.84,1990],[2013.88,2420],[2013.92,1720],[2013.96,2250],[2014.0,2860],[2014.04,2040],[2014.08,1090],[2014.12,2330],[2014.16,2580],[2014.2,1880],[2014.24,2150],[2014.28,2720],[2014.32,1600],[2014.36,2260],[2014.4,2000],[2014.44,2940],[2014.48,1780],[2014.52,2380],[2014.56,2100],[2014.6,1400],[2014.64,2490],[2014.68,2230],[2014.72,3050],[2014.76,1950],[2014.8,2310],[2014.84,1680],[2014.88,2620],[2014.92,2170],[2014.96,1060],[2015.0,2440],[2015.04,2020],[2015.08,2830],[2015.12,1830],[2015.16,2270],[2015.2,2560],[2015.24,1550],[2015.28,2190],[2015.32,3010],[2015.36,2080],[2015.4,2350],[2015.44,1740],[2015.48,2640],[2015.52,1970],[2015.56,2290],[2015.6,1310],[2015.64,2480],[2015.68,2120],[2015.72,2780],[2015.76,1890],[2015.8,2210],[2015.84,2590],[2015.88,1620],[2015.92,2400],[2015.96,2050],[2016.0,2920],[2016.04,1810],[2016.08,2300],[2016.12,1480],[2016.16,2530],[2016.2,2140],[2016.24,1190],[2016.28,2370],[2016.32,2700],[2016.36,1960],[2016.4,2250],[2016.44,1700],[2016.48,2600],[2016.52,2080],[2016.56,3230],[2016.6,1900],[2016.64,2330],[2016.68,1570],[2016.72,2470],[2016.76,2150],[2016.8,2850],[2016.84,1840],[2016.88,2280],[2016.92,2560],[2016.96,1420],[2017.0,2190],[2017.04,2660],[2017.08,1990],[2017.12,2380],[2017.16,1730],[2017.2,2510],[2017.24,2100],[2017.28,1460],[2017.32,2320],[2017.36,1880],[2017.4,2240],
[2013.1,2180],[2013.35,2300],[2013.6,2110],[2013.85,2250],[2014.1,2400],[2014.35,2050],[2014.6,2270],[2014.85,2160],[2015.1,2350],[2015.35,2020],[2015.6,2230],[2015.85,2120],[2016.1,2310],[2016.35,2180],[2016.6,2050],[2016.85,2260],[2017.1,2140],[2017.35,2330]];

const ptsC7Right = [[2008.84,1480],[2008.88,1870],[2008.91,1200],[2008.95,1620],[2008.98,940],[2009.02,1750],[2009.06,1390],[2009.09,2010],[2009.13,1290],[2009.17,1560],[2009.2,2370],[2009.24,1430],[2009.28,1180],[2009.31,1690],[2009.35,1510],[2009.39,1940],[2009.42,1330],[2009.46,1600],[2009.5,870],[2009.53,1780],[2009.57,1450],[2009.61,1250],[2009.64,2140],[2009.68,1540],[2009.72,1370],[2009.75,1820],[2009.79,1100],[2009.83,1630],[2009.86,1470],[2009.9,2240],[2009.94,1310],[2009.97,1720],[2010.01,1520],[2010.05,1060],[2010.08,1880],[2010.12,1400],[2010.16,2560],[2010.2,1590],[2010.23,1230],[2010.27,1700],[2010.31,1440],[2010.35,2050],[2010.38,1160],[2010.42,1650],[2010.46,1360],[2010.5,1910],[2010.53,1500],[2010.57,890],[2010.61,1760],[2010.65,1280],[2010.68,1580],[2010.72,2190],[2010.76,1420],[2010.8,1640],[2010.84,1190],[2010.87,1830],[2010.91,1350],[2010.95,2420],[2010.99,1530],[2011.03,1080],[2011.07,1690],[2011.11,1460],[2011.15,1960],[2011.19,1270],[2011.23,1600],[2011.27,1390],[2011.31,1830],[2011.35,830],[2011.39,1550],[2011.43,1220],[2011.47,2100],[2011.51,1480],[2011.55,1740],[2011.59,1320],[2011.63,1610],[2011.67,1970],[2011.71,1140],[2011.75,1510],[2011.79,1680],[2011.83,1360],[2011.87,2260],[2011.91,1570],[2011.95,1040],[2011.99,1800],[2012.03,1430],[2012.07,1650],[2012.11,1260],[2012.15,2480],[2012.19,1520],[2012.23,1880],[2012.27,1300],[2012.31,1620],[2012.35,1470],[2012.39,2030],[2012.43,1190],[2012.47,1700],[2012.51,1540],[2012.55,960],[2012.6,3170],[2012.64,1630],[2012.68,1380],[2012.72,1920],[2012.76,1500],[2012.8,2200],[2012.84,1270],[2012.88,1710],[2012.92,1440],[2012.96,1860],[2013.0,1130],[2013.04,1590],[2013.08,2340],[2013.11,2680],[2013.15,1410],[2013.19,1750],[2013.23,1280],[2013.27,1990],[2013.31,1560],[2013.35,910],[2013.39,1640],[2013.43,2120],[2013.47,1370],[2013.51,1820],[2013.55,1490],[2013.59,1210],[2013.62,2580],[2013.66,1680],[2013.7,1350],[2013.74,1900],[2013.78,1530],[2013.82,1080],[2013.86,1760],[2013.9,1420],[2013.93,1630],
[2008.95,1530],[2009.2,1620],[2009.45,1480],[2009.7,1590],[2009.95,1440],[2010.2,1650],[2010.45,1520],[2010.7,1400],[2010.95,1600],[2011.2,1490],[2011.45,1570],[2011.7,1430],[2011.95,1660],[2012.2,1510],[2012.45,1380],[2012.7,1590],[2012.95,1470],[2013.2,1620],[2013.45,1530],[2013.7,1450],
[2013.98,2620],[2014.01,2880],[2014.04,2300],[2014.07,2700],[2014.1,3120],[2014.14,2450],[2014.17,2090],[2014.2,2810],[2014.24,2360],[2014.27,3240],[2014.31,1120],[2014.34,2560],[2014.38,2200],[2014.42,3850],[2014.45,2640],[2014.49,2390],[2014.53,2970],[2014.56,1950],[2014.6,2720],[2014.64,2280],[2014.67,3330],[2014.71,2500],[2014.75,1640],[2014.78,2830],[2014.82,2410],[2014.86,2160],[2014.89,2950],[2014.93,2590],[2014.97,3100],[2015.0,2230],[2015.04,2680],[2015.08,1480],[2015.12,2520],[2015.16,2900],[2015.2,2120],[2015.24,2760],[2015.28,2380],[2015.32,3210],[2015.36,2040],[2015.4,2610],[2015.44,2290],[2015.48,2850],[2015.52,1790],[2015.56,2470],[2015.6,3040],[2015.64,2200],[2015.68,2730],[2015.72,2420],[2015.76,1580],[2015.8,2640],[2015.84,2960],[2015.88,2150],[2015.92,2530],[2015.96,3170],[2016.0,2310],[2016.04,2760],[2016.08,4130],[2016.12,2480],[2016.16,2050],[2016.2,2890],[2016.24,2370],[2016.28,3060],[2016.32,2210],[2016.36,2660],[2016.4,1700],[2016.44,2540],[2016.48,2980],[2016.52,2260],[2016.56,2720],[2016.6,2430],[2016.64,3150],[2016.68,2000],[2016.72,2590],[2016.76,2840],[2016.8,2150],[2016.84,2480],[2016.88,3010],[2016.92,1610],[2016.96,2690],[2017.0,2360],[2017.04,2920],[2017.08,2230],[2017.12,2570],[2017.16,3090],[2017.2,2110],[2017.24,2650],[2017.28,2400],[2017.32,1900],[2017.36,2780],[2017.4,2460],[2017.45,2980],[2017.5,2280],[2017.55,2620],[2017.6,2190],[2017.64,2750],[2017.68,3610],
[2014.1,2520],[2014.4,2610],[2014.7,2440],[2015.0,2580],[2015.3,2470],[2015.6,2650],[2015.9,2400],[2016.2,2560],[2016.5,2490],[2016.8,2620],[2017.1,2450],[2017.4,2540]];

const panelPoints = [ptsC1Left, ptsC1Right, ptsC2Left, ptsC2Right, ptsC3Left, ptsC3Right, ptsC4Left, ptsC4Right, ptsC5Left, ptsC5Right, ptsC6Left, ptsC6Right, ptsC7Left, ptsC7Right];

// ---- layout / styling ----
const X_MIN = 2007.956, X_MAX = 2018.04;
const Y_MIN = 470, Y_MAX = 4210;
const LABEL_Y = 700;            // height of the blue change-date caption
const FONT = 'DejaVu Sans';
const monthTicks = [];
for (let k = 0; k <= 120; k++) monthTicks.push(2008 + k / 12);

const grids = [], xAxes = [], yAxes = [], series = [], graphics = [];

const grayStyle = { color: 'rgba(70,70,70,0.78)', width: 2.6, type: 'solid' };
const redStyle = { color: '#e3201d', width: 1.4, type: 'solid' };
const blueStyle = { color: '#1c1cf0', width: 1.3, type: 'solid' };

for (let p = 0; p < 14; p++) {
  const row = Math.floor(p / 2), col = p % 2;
  const left = col ? 474 : 82;
  const top = 75 + row * 149.7;
  grids.push({ left: left, top: top, width: 369, height: 128, show: true, borderColor: '#000', borderWidth: 1,
    backgroundColor: 'transparent', outerBoundsMode: 'none', containLabel: false });

  xAxes.push({ type: 'value', gridIndex: p, min: X_MIN, max: X_MAX, position: 'bottom',
    axisLine: { show: false, onZero: false }, splitLine: { show: false },
    axisTick: { show: true, length: 4.5, customValues: yearTicks, lineStyle: { color: '#000', width: 1 } },
    axisLabel: { show: row === 6, customValues: yearTicks, rotate: 90, margin: 6, fontSize: 12.5,
      fontFamily: FONT, color: '#000', formatter: v => String(Math.round(v)) } });
  xAxes.push({ type: 'value', gridIndex: p, min: X_MIN, max: X_MAX, position: 'bottom',
    axisLine: { show: false, onZero: false }, splitLine: { show: false },
    axisTick: { show: true, length: 2.2, customValues: monthTicks, lineStyle: { color: '#000', width: 0.8 } },
    axisLabel: { show: false } });
  yAxes.push({ type: 'value', gridIndex: p, min: Y_MIN, max: Y_MAX,
    axisLine: { show: false, onZero: false }, splitLine: { show: false },
    axisTick: { show: true, length: 4.5, customValues: volumeTicks, lineStyle: { color: '#000', width: 1 } },
    axisLabel: { show: col === 0, customValues: volumeTicks, margin: 4, fontSize: 12.5, fontFamily: FONT,
      color: '#000', formatter: v => String(Math.round(v)) } });

  const xi = 2 * p, yi = p;
  const ch = changeYears[p];
  const mB = meanBefore[p];
  const mA = meanBefore[p] + deltaV[p];

  // shaded spread bands + dotted grid lines
  series.push({ type: 'line', xAxisIndex: xi, yAxisIndex: yi, data: [], silent: true, z: 1,
    markArea: { silent: true,
      itemStyle: { color: 'rgba(238,70,70,0.15)', borderColor: 'rgba(230,90,90,0.35)', borderWidth: 1 },
      data: [
        [{ xAxis: periodStart[p], yAxis: bandBeforeLow[p] }, { xAxis: ch, yAxis: bandBeforeHigh[p] }],
        [{ xAxis: ch, yAxis: bandAfterLow[p] }, { xAxis: periodEnd[p], yAxis: bandAfterHigh[p] }]
      ] },
    markLine: { silent: true, symbol: ['none', 'none'], label: { show: false },
      lineStyle: { type: [1, 1.6], color: '#333', width: 0.8 },
      data: volumeTicks.map(v => ({ yAxis: v })) } });

  // individual scans
  series.push({ type: 'scatter', xAxisIndex: xi, yAxisIndex: yi, data: panelPoints[p], symbolSize: 3,
    itemStyle: { color: centreColors[row] }, silent: true, z: 2 });

  // level lines and change marker
  series.push({ type: 'line', xAxisIndex: xi, yAxisIndex: yi, data: [], silent: true, z: 3,
    markLine: { silent: true, symbol: ['none', 'none'], label: { show: false },
      data: [
        [{ coord: [X_MIN, refBefore[p]], lineStyle: grayStyle }, { coord: [ch, refBefore[p]] }],
        [{ coord: [ch, refAfter[p]], lineStyle: grayStyle }, { coord: [X_MAX, refAfter[p]] }],
        [{ coord: [X_MIN, mB], lineStyle: redStyle }, { coord: [ch, mB] }],
        [{ coord: [ch, mA], lineStyle: redStyle }, { coord: [X_MAX, mA] }],
        [{ coord: [ch, Y_MIN], lineStyle: blueStyle }, { coord: [ch, bandAfterHigh[p]] }]
      ] } });

  // change-date caption
  series.push({ type: 'scatter', xAxisIndex: xi, yAxisIndex: yi, data: [[ch, LABEL_Y]], symbolSize: 0,
    itemStyle: { color: 'rgba(0,0,0,0)' }, silent: true, z: 4,
    label: { show: true, position: 'right', distance: 5, formatter: changeLabels[p],
      color: '#2222d2', fontSize: 13, fontFamily: FONT } });

  // panel caption
  graphics.push({ type: 'text', x: left + 6, y: top + 20.5, silent: true, z: 10,
    style: { text: 'Centre ' + centreNumbers[p] + ' ' + sideNames[p] + ', dV = ' + deltaV[p] + 'mL (' + pTexts[p] + ')',
      fill: '#000', font: '11.4px "DejaVu Sans"', align: 'left', verticalAlign: 'middle',
      textAlign: 'left', textVerticalAlign: 'middle' } });
}

// column headings
graphics.push({ type: 'text', x: 257, y: 28, silent: true,
  style: { text: sideTitles[0], fill: '#000', font: '34px "Open Sans"', align: 'center', verticalAlign: 'middle',
    textAlign: 'center', textVerticalAlign: 'middle' } });
graphics.push({ type: 'text', x: 636, y: 28, silent: true,
  style: { text: sideTitles[1], fill: '#000', font: '34px "Open Sans"', align: 'center', verticalAlign: 'middle',
    textAlign: 'center', textVerticalAlign: 'middle' } });

// shared y-axis title
graphics.push({ type: 'text', x: 22, y: 589, rotation: Math.PI / 2, silent: true,
  style: { text: 'Ipsilateral lung volume [mL]', fill: '#000', font: '12.5px "DejaVu Sans"',
    align: 'center', verticalAlign: 'middle', textAlign: 'center', textVerticalAlign: 'middle' } });

// slide pointer shape on the left edge
graphics.push({ type: 'polygon', silent: true,
  shape: { points: [[-12, 244], [22, 285], [-12, 326]] },
  style: { fill: '#ffc000', stroke: '#1f2f50', lineWidth: 2 } });

const chart = echarts.init(document.getElementById('chart'), null, { renderer: 'canvas' });
chart.setOption({
  animation: false,
  backgroundColor: '#fff',
  grid: grids,
  xAxis: xAxes,
  yAxis: yAxes,
  series: series,
  graphic: { elements: graphics }
});
</script>
</body>
</html>
